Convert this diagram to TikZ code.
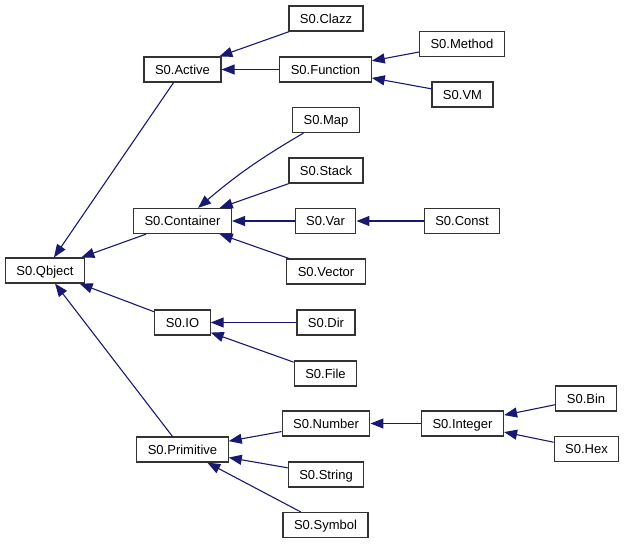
\documentclass[tikz,border=0pt]{standalone}
\usepackage{fontspec}
\setmainfont{Liberation Sans}
\usetikzlibrary{arrows.meta}

\definecolor{edgeblue}{RGB}{25,25,112}

\tikzset{
  cls/.style={draw=black!80, fill=white, line width=1.2pt, inner xsep=11pt,
    inner ysep=0pt, text height=9.3pt, text depth=0pt, minimum height=25pt,
    font=\fontsize{13}{15}\selectfont},
  inh/.style={draw=edgeblue, line width=1.1pt,
    -{Triangle[length=13pt,width=10pt,fill=edgeblue]}}
}

\begin{document}
\begin{tikzpicture}[x=1pt, y=-1pt]
  \useasboundingbox (0,0) rectangle (625,544);

  % Root
  \node[cls] (qbject) at (45,270.5) {S0.Qbject};

  % Second level
  \node[cls] (active)    at (182.5,69.5)  {S0.Active};
  \node[cls] (container) at (182.5,221)   {S0.Container};
  \node[cls] (io)        at (182.5,322.5) {S0.IO};
  \node[cls] (primitive) at (182.5,449.5) {S0.Primitive};

  % Third level
  \node[cls] (clazz)    at (326,18.5)    {S0.Clazz};
  \node[cls] (function) at (325.5,69.5)  {S0.Function};
  \node[cls] (map)      at (326,120)     {S0.Map};
  \node[cls] (stack)    at (326,170.5)   {S0.Stack};
  \node[cls] (var)      at (325.5,221)   {S0.Var};
  \node[cls] (vector)   at (326,271.5)   {S0.Vector};
  \node[cls] (dir)      at (326,322.5)   {S0.Dir};
  \node[cls] (file)     at (325.5,373.5) {S0.File};
  \node[cls] (number)   at (326,423.5)   {S0.Number};
  \node[cls] (string)   at (326,474.5)   {S0.String};
  \node[cls] (symbol)   at (325.5,525)   {S0.Symbol};

  % Fourth level
  \node[cls] (method)  at (462,44)      {S0.Method};
  \node[cls] (vm)      at (462.5,94.5)  {S0.VM};
  \node[cls] (const)   at (462,221)     {S0.Const};
  \node[cls] (integer) at (462.5,423.5) {S0.Integer};

  % Fifth level
  \node[cls] (bin) at (586,398.5)   {S0.Bin};
  \node[cls] (hex) at (586.5,449)   {S0.Hex};

  % Edges to the root
  \draw[inh] (active) -- (qbject);
  \draw[inh] (container) -- (qbject);
  \draw[inh] (io) -- (qbject);
  \draw[inh] (primitive) -- (qbject);

  % Edges to the second level
  \draw[inh] (clazz) -- (active);
  \draw[inh] (function) -- (active);
  \draw[inh] (map) to[bend right=5] (container);
  \draw[inh] (stack) -- (container);
  \draw[inh] (var) -- (container);
  \draw[inh] (vector) -- (container);
  \draw[inh] (dir) -- (io);
  \draw[inh] (file) -- (io);
  \draw[inh] (number) -- (primitive);
  \draw[inh] (string) -- (primitive);
  \draw[inh] (symbol) -- (primitive);

  % Edges to the third level
  \draw[inh] (method) -- (function);
  \draw[inh] (vm) -- (function);
  \draw[inh] (const) -- (var);
  \draw[inh] (integer) -- (number);

  % Edges to the fourth level
  \draw[inh] (bin) -- (integer);
  \draw[inh] (hex) -- (integer);
\end{tikzpicture}
\end{document}
